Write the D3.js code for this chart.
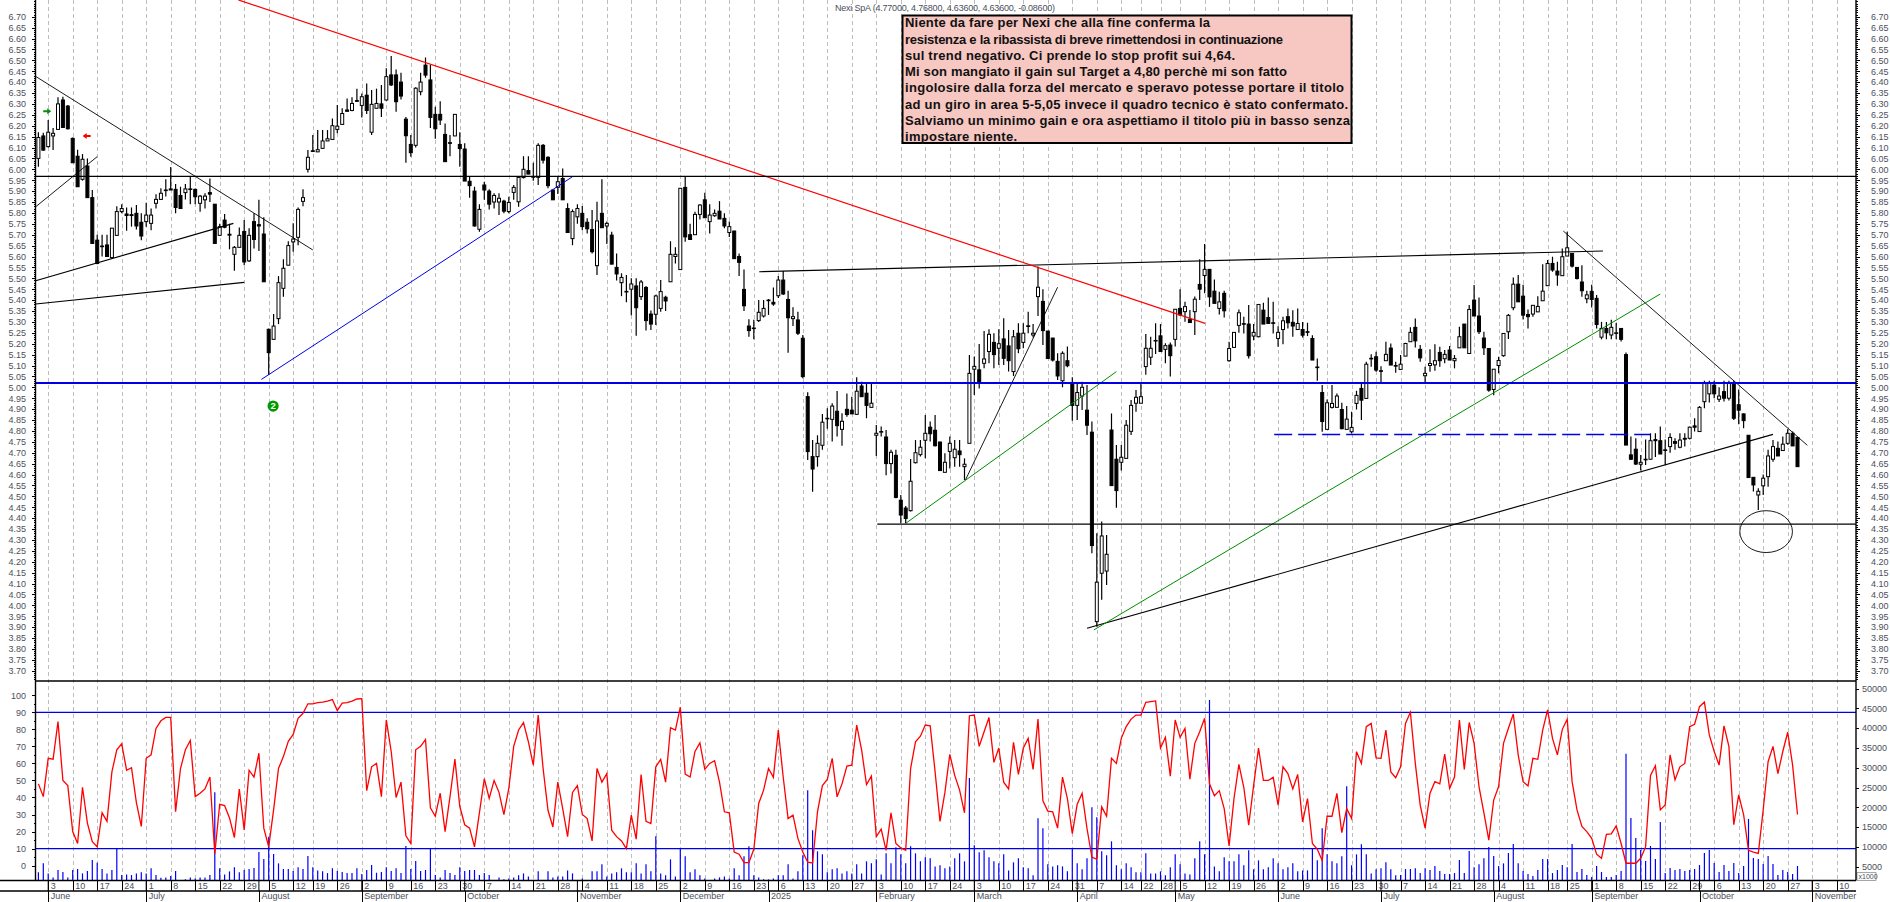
<html>
<head>
    <style media="screen">
        body { margin: 0; background: #fff; overflow: hidden; }
        svg { display: block; font-family: "Liberation Sans", Arial, sans-serif; }
        .axis text, .lbl { font-size: 9px; fill: #4b4f5c; stroke: none; }
        .axis path, .axis line { stroke: #000; shape-rendering: crispEdges; }
        .grid { stroke: #bdbdbd; stroke-dasharray: 4 3; shape-rendering: crispEdges; }
    </style>
    <script type='text/javascript' src="https://cdn.jsdelivr.net/npm/d3@7/dist/d3.min.js"></script>
</head>
<body>
    <svg id="chart" width="1890" height="902"></svg>
    <script>
        const title = 'Nexi SpA (4.77000, 4.76800, 4.63600, 4.63600, -0.08600)';
        const noteLines = [
            'Niente da fare per Nexi che alla fine conferma la',
            'resistenza e la ribassista di breve rimettendosi in continuazione',
            'sul trend negativo. Ci prende lo stop profit sui 4,64.',
            'Mi son mangiato il gain sul Target a 4,80 perchè mi son fatto',
            'ingolosire dalla forza del mercato e speravo potesse portare il titolo',
            'ad un giro in area 5-5,05 invece il quadro tecnico è stato confermato.',
            'Salviamo un minimo gain e ora aspettiamo il titolo più in basso senza',
            'impostare niente.'
        ];
        const noteWidths = [305,378,330,382,439,443,445,112];

        const opens = [
            6.05,6.153,6.104,6.153,6.183,6.318,6.29,6.142,6.06,5.954,
            6.015,5.87,5.675,5.648,5.653,5.595,5.697,5.806,5.795,5.792,
            5.798,5.757,5.76,5.752,5.844,5.862,5.905,5.91,5.908,5.88,
            5.893,5.91,5.908,5.844,5.86,5.893,5.84,5.697,5.767,5.702,
            5.61,5.642,5.715,5.58,5.76,5.746,5.703,5.266,5.22,5.315,
            5.454,5.56,5.667,5.688,5.853,6.0,6.085,6.08,6.096,6.13,
            6.137,6.183,6.206,6.272,6.27,6.315,6.293,6.34,6.17,6.28,
            6.30,6.318,6.433,6.433,6.4,6.23,6.114,6.11,6.356,6.478,
            6.41,6.252,6.252,6.16,6.122,6.153,6.114,6.093,5.945,5.9,
            5.725,5.928,5.9,5.85,5.85,5.854,5.806,5.894,5.851,5.962,
            5.994,5.966,5.963,6.11,6.055,5.905,5.917,5.958,5.82,5.682,
            5.782,5.798,5.757,5.724,5.558,5.798,5.74,5.698,5.55,5.48,
            5.44,5.45,5.465,5.416,5.458,5.336,5.335,5.362,5.413,5.484,
            5.6,5.54,5.917,5.7,5.7,5.793,5.86,5.76,5.787,5.808,
            5.775,5.71,5.717,5.6,5.449,5.281,5.272,5.306,5.327,5.4,
            5.39,5.42,5.492,5.403,5.315,5.309,5.225,4.957,4.682,4.682,
            4.734,4.858,4.853,4.89,4.807,4.899,4.895,4.876,5.006,4.973,
            4.908,4.78,4.797,4.772,4.65,4.688,4.482,4.446,4.434,4.654,
            4.691,4.757,4.817,4.803,4.749,4.61,4.706,4.677,4.708,4.636,
            4.743,5.083,5.08,5.11,5.164,5.206,5.179,5.222,5.19,5.072,
            5.248,5.206,5.282,5.24,5.416,5.394,5.258,5.226,5.119,5.03,
            5.122,5.021,4.917,4.96,4.895,4.794,3.925,4.147,4.157,4.804,
            4.67,4.656,4.674,4.798,4.927,4.927,5.095,5.138,5.215,5.236,
            5.174,5.194,5.22,5.362,5.347,5.312,5.347,5.472,5.513,5.541,
            5.441,5.362,5.431,5.122,5.183,5.284,5.292,5.29,5.235,5.232,
            5.354,5.32,5.296,5.224,5.265,5.324,5.298,5.265,5.265,5.255,
            5.224,5.093,4.976,4.807,4.908,4.908,4.898,4.807,4.796,4.926,
            4.995,4.949,5.133,5.14,5.076,5.122,5.18,5.1,5.082,5.143,
            5.209,5.275,5.174,5.053,5.1,5.103,5.16,5.131,5.171,5.122,
            5.181,5.29,5.155,5.4,5.327,5.226,5.178,4.99,5.1,5.145,
            5.255,5.365,5.473,5.418,5.334,5.336,5.346,5.397,5.466,5.568,
            5.533,5.512,5.602,5.614,5.55,5.483,5.406,5.44,5.408,5.23,
            5.27,5.24,5.25,5.27,5.15,4.69,4.716,4.647,4.67,4.67,
            4.76,4.755,4.713,4.728,4.751,4.725,4.766,4.766,4.823,4.797,
            4.934,4.97,5.01,4.945,4.98,4.95,5.02,4.92,4.878,4.78,
            4.587,4.506,4.548,4.59,4.67,4.72,4.71,4.743,4.789,4.77
        ];
        const highs = [
            6.17,6.168,6.226,6.19,6.33,6.333,6.295,6.146,6.09,6.07,
            6.05,5.905,5.70,5.70,5.70,5.73,5.83,5.84,5.825,5.825,
            5.836,5.798,5.846,5.82,5.885,5.913,5.954,6.01,5.933,5.92,
            5.933,5.966,5.912,5.882,5.89,5.958,5.84,5.75,5.795,5.75,
            5.648,5.733,5.767,5.73,5.798,5.86,5.78,5.27,5.336,5.51,
            5.587,5.67,5.752,5.825,5.908,6.088,6.157,6.18,6.18,6.18,
            6.233,6.295,6.28,6.325,6.33,6.37,6.348,6.394,6.364,6.37,
            6.387,6.463,6.52,6.458,6.443,6.24,6.157,6.376,6.443,6.513,
            6.478,6.287,6.312,6.21,6.157,6.252,6.17,6.12,5.966,5.92,
            5.84,5.943,5.908,5.89,5.89,5.86,5.874,5.928,5.966,6.06,
            6.06,6.03,6.12,6.116,6.06,5.905,5.966,6.004,5.844,5.816,
            5.84,5.832,5.775,5.813,5.851,5.954,5.76,5.714,5.614,5.523,
            5.515,5.5,5.5,5.492,5.465,5.352,5.425,5.492,5.42,5.67,
            5.642,5.913,5.966,5.75,5.805,5.84,5.893,5.84,5.816,5.854,
            5.798,5.76,5.717,5.614,5.54,5.312,5.31,5.4,5.4,5.405,
            5.458,5.51,5.533,5.443,5.367,5.347,5.24,4.977,4.758,4.78,
            4.878,4.904,4.927,4.983,4.881,4.972,4.957,5.046,5.026,5.018,
            5.018,4.827,4.82,4.804,4.713,4.713,4.506,4.456,4.671,4.758,
            4.758,4.873,4.843,4.873,4.75,4.697,4.774,4.758,4.758,4.674,
            5.148,5.141,5.199,5.258,5.266,5.248,5.266,5.317,5.263,5.263,
            5.294,5.294,5.347,5.29,5.554,5.45,5.258,5.226,5.156,5.165,
            5.187,5.046,5.021,5.026,5.011,4.843,4.33,4.384,4.323,4.88,
            4.735,4.735,4.85,4.942,4.988,5.018,5.245,5.232,5.294,5.29,
            5.202,5.205,5.358,5.45,5.393,5.355,5.416,5.587,5.657,5.541,
            5.495,5.438,5.443,5.209,5.252,5.357,5.324,5.377,5.29,5.38,
            5.388,5.412,5.392,5.28,5.324,5.362,5.354,5.362,5.3,5.296,
            5.239,5.132,5.01,4.944,5.01,4.972,4.929,4.914,4.888,4.984,
            5.018,5.117,5.152,5.163,5.097,5.209,5.201,5.117,5.148,5.204,
            5.275,5.316,5.194,5.094,5.174,5.198,5.186,5.171,5.189,5.148,
            5.278,5.29,5.377,5.469,5.412,5.255,5.178,5.083,5.14,5.247,
            5.336,5.504,5.515,5.47,5.357,5.376,5.418,5.565,5.584,5.599,
            5.576,5.637,5.713,5.614,5.55,5.56,5.443,5.47,5.423,5.3,
            5.3,5.31,5.295,5.27,5.16,4.774,4.766,4.69,4.76,4.789,
            4.789,4.82,4.76,4.789,4.766,4.789,4.789,4.82,4.858,4.914,
            5.03,5.03,5.03,5.0,5.03,5.03,5.03,4.99,4.88,4.78,
            4.587,4.537,4.6,4.713,4.758,4.751,4.774,4.807,4.797,4.77
        ];
        const lows = [
            6.012,6.085,6.10,6.088,6.183,6.192,6.183,6.03,5.92,5.948,
            5.87,5.66,5.565,5.60,5.60,5.59,5.694,5.798,5.718,5.737,
            5.724,5.675,5.737,5.72,5.82,5.86,5.875,5.905,5.798,5.82,
            5.862,5.84,5.84,5.805,5.82,5.85,5.66,5.697,5.73,5.633,
            5.535,5.642,5.56,5.575,5.637,5.625,5.484,5.056,5.218,5.29,
            5.415,5.56,5.622,5.652,5.83,5.985,6.08,6.08,6.093,6.13,
            6.137,6.165,6.203,6.266,6.266,6.31,6.238,6.254,6.157,6.28,
            6.24,6.315,6.382,6.264,6.32,6.03,6.058,6.1,6.34,6.42,
            6.19,6.14,6.203,6.035,6.06,6.153,6.012,5.946,5.87,5.737,
            5.714,5.86,5.816,5.82,5.79,5.798,5.798,5.86,5.828,5.958,
            5.978,5.948,5.928,6.027,5.913,5.86,5.887,5.86,5.71,5.652,
            5.75,5.72,5.706,5.614,5.515,5.732,5.657,5.565,5.49,5.418,
            5.39,5.33,5.237,5.4,5.26,5.263,5.286,5.347,5.35,5.484,
            5.568,5.54,5.668,5.678,5.7,5.77,5.778,5.706,5.782,5.772,
            5.73,5.69,5.59,5.51,5.35,5.232,5.22,5.3,5.32,5.332,
            5.374,5.41,5.423,5.159,5.281,5.24,5.041,4.666,4.521,4.636,
            4.713,4.81,4.751,4.774,4.732,4.865,4.878,4.873,4.957,4.858,
            4.908,4.685,4.774,4.596,4.605,4.491,4.376,4.376,4.43,4.651,
            4.682,4.674,4.751,4.728,4.618,4.61,4.628,4.636,4.636,4.575,
            4.743,4.965,4.995,5.087,5.11,5.087,5.102,5.102,5.072,5.052,
            5.156,5.179,5.248,5.229,5.327,5.194,5.132,5.118,5.034,5.0,
            5.092,4.847,4.85,4.896,4.781,4.239,3.902,4.025,4.093,4.549,
            4.448,4.618,4.674,4.781,4.888,4.927,5.057,5.102,5.153,5.164,
            5.11,5.049,5.187,5.327,5.301,5.297,5.24,5.4,5.431,5.369,
            5.385,5.334,5.32,5.117,5.183,5.25,5.247,5.132,5.216,5.229,
            5.29,5.293,5.247,5.186,5.198,5.27,5.232,5.265,5.229,5.235,
            5.125,5.03,4.796,4.807,4.903,4.908,4.807,4.807,4.788,4.898,
            4.85,4.949,5.094,5.071,5.021,5.122,5.102,5.067,5.082,5.143,
            5.209,5.183,5.117,5.019,5.071,5.076,5.094,5.11,5.125,5.087,
            5.181,5.181,5.155,5.327,5.244,5.148,4.98,4.964,5.064,5.14,
            5.221,5.354,5.392,5.311,5.27,5.324,5.346,5.397,5.466,5.53,
            5.466,5.512,5.602,5.55,5.495,5.415,5.385,5.366,5.27,5.22,
            5.22,5.22,5.22,5.21,4.735,4.667,4.644,4.618,4.644,4.67,
            4.68,4.694,4.644,4.70,4.713,4.72,4.728,4.76,4.797,4.797,
            4.904,4.93,4.95,4.932,4.935,4.94,4.85,4.83,4.812,4.586,
            4.522,4.437,4.506,4.544,4.659,4.685,4.71,4.736,4.731,4.636
        ];
        const closes = [
            6.146,6.088,6.17,6.165,6.30,6.192,6.186,6.03,5.92,6.046,
            5.87,5.66,5.568,5.645,5.60,5.73,5.806,5.82,5.788,5.788,
            5.74,5.694,5.79,5.79,5.862,5.89,5.905,5.905,5.825,5.82,
            5.91,5.908,5.874,5.877,5.877,5.886,5.66,5.737,5.734,5.698,
            5.642,5.697,5.575,5.697,5.678,5.74,5.484,5.159,5.281,5.48,
            5.546,5.65,5.68,5.816,5.87,6.055,6.082,6.09,6.13,6.14,
            6.2,6.198,6.256,6.266,6.302,6.312,6.333,6.27,6.298,6.302,
            6.28,6.425,6.387,6.31,6.336,6.154,6.076,6.372,6.4,6.432,
            6.238,6.186,6.226,6.035,6.12,6.252,6.095,5.946,5.925,5.74,
            5.816,5.905,5.84,5.88,5.867,5.808,5.848,5.917,5.963,6.0,
            5.978,5.966,6.11,6.042,5.925,5.86,5.943,5.86,5.71,5.806,
            5.82,5.737,5.727,5.622,5.763,5.732,5.752,5.565,5.52,5.504,
            5.438,5.474,5.365,5.483,5.306,5.29,5.419,5.439,5.396,5.61,
            5.61,5.913,5.69,5.678,5.793,5.836,5.778,5.79,5.798,5.772,
            5.74,5.737,5.59,5.573,5.374,5.26,5.27,5.344,5.362,5.4,
            5.382,5.492,5.428,5.319,5.324,5.248,5.049,4.705,4.625,4.743,
            4.84,4.858,4.914,4.824,4.844,4.875,4.878,4.982,4.957,4.917,
            4.927,4.789,4.797,4.65,4.702,4.495,4.414,4.398,4.569,4.7,
            4.725,4.789,4.787,4.732,4.618,4.656,4.743,4.716,4.691,4.647,
            5.064,5.096,5.021,5.13,5.243,5.15,5.2,5.133,5.122,5.232,
            5.177,5.248,5.28,5.248,5.459,5.26,5.132,5.125,5.052,5.156,
            5.099,4.917,4.976,5.0,4.826,4.274,4.106,4.318,4.234,4.549,
            4.526,4.679,4.826,4.917,4.954,4.957,5.179,5.179,5.213,5.164,
            5.191,5.145,5.358,5.332,5.37,5.297,5.404,5.45,5.541,5.415,
            5.385,5.392,5.351,5.178,5.252,5.342,5.29,5.145,5.252,5.38,
            5.29,5.293,5.294,5.252,5.305,5.296,5.281,5.293,5.239,5.252,
            5.125,5.092,4.843,4.929,4.926,4.96,4.81,4.854,4.816,4.963,
            4.941,5.106,5.131,5.079,5.075,5.151,5.102,5.098,5.106,5.201,
            5.252,5.213,5.135,5.064,5.109,5.122,5.122,5.151,5.125,5.132,
            5.232,5.181,5.357,5.327,5.255,5.181,4.987,5.083,5.123,5.247,
            5.33,5.473,5.392,5.331,5.324,5.376,5.371,5.441,5.568,5.538,
            5.515,5.599,5.64,5.556,5.499,5.443,5.424,5.403,5.288,5.27,
            5.25,5.275,5.25,5.22,4.735,4.67,4.648,4.656,4.67,4.755,
            4.755,4.694,4.712,4.77,4.743,4.758,4.762,4.817,4.817,4.908,
            5.02,5.02,4.97,4.96,4.95,5.02,4.858,4.895,4.847,4.586,
            4.552,4.523,4.583,4.685,4.728,4.685,4.739,4.789,4.731,4.636
        ];

        // oscillator, one value per bar
        const osc = [
            48,40.5,63,62.5,84.5,50,47,20,13,46,
            25,14,11,31,26,55,68,71.5,56,57.5,
            37,23,63,65,80.5,85,87,87,31.7,57,
            68,73.5,40.5,42.5,45,52,7,36,35.3,28,
            16.5,45,21,56,52,66,22,11,32.7,57,
            64,73,77,86.5,89.4,95,95,95.7,96,96.6,
            97.5,91,95.4,95.7,96.6,97.8,98,44,58,60,
            40.5,85.5,67,40,49,17.5,13,68,70,74,
            34,29,42.5,20,40.5,62.5,34.7,24,22,11,
            31,51,39.5,50,43,30,45.3,70,79.6,84,
            72.7,59,88.4,57,32.5,22.7,49,33.5,17,43,
            47,30,27.6,14.5,57,49,54,20.8,17,14.5,
            10,29.6,15.5,53.5,26,24.7,58,62.4,49,81,
            79.6,93,53.7,52,67,72,56.5,60,61.6,49,
            31.6,31,8,6.7,1.8,1.8,9.6,36.5,44.3,57,
            51.8,79.6,52,27.6,29.6,16,8,2,1.6,31.6,
            47,50.6,63,40.4,48,58.4,59,82.5,68,47.6,
            52.5,17,21.4,9,31,13,10.4,9,57,72.7,
            76,82.5,82,55,26,43,65.3,53,44.3,31,
            88,88.4,70,78.6,86.9,60.6,69,49,45,72.4,
            53.5,69,74.7,56.5,86,38,32,31.6,22,52,
            39.4,18.8,36,42.4,21.8,5,3.7,34.5,29,63,
            60,74.7,81.6,86,88.4,88.4,95.9,96.3,96.7,69,
            75.3,52.5,85.5,75.3,80.6,50.8,71.8,78.6,86.5,48,
            41,44,33.5,11.6,39.4,59.4,46,23.7,47,69,
            50,50,51.8,35.5,58,54,45,53.5,25.7,39.4,
            13,9.6,3,29,29,42.4,19.4,33.5,27.6,66.9,
            60,81.6,83.5,63.3,63,79.6,55,51.6,58,83.5,
            90,60,35.5,22,42.5,49.3,48,65.5,45.4,52,
            85.5,56.5,84,71.8,46.4,31,15,38.5,46.4,71.8,
            80.6,89,65,49.3,46.8,63,62.4,79.6,91.4,74.7,
            65,80,86,49.3,32.7,23,20,16,6.7,4.3,
            18.4,18.6,23.3,13,1.4,1.4,1.4,4.3,11,53,
            58.7,32.7,35.6,65,50.3,58,60,81.6,83,93.3,
            96,76.7,67,59,82,70,24,41.5,30,9,
            8,7.2,32.7,61,70,54,67,78.3,59,30
        ];

        // volume, read in units of the right axis (x1000)
        const volumes = [
            3570,5840,3310,2300,4160,3650,2300,4160,4410,3310,
            3900,6690,6010,4410,3310,4160,9550,2890,3060,2890,
            3310,3570,3310,4580,2890,2220,2300,2640,3900,1540,
            1800,2300,2050,2300,2300,2890,23800,4580,3060,3820,
            4830,3570,4160,4410,4660,8710,6940,12590,8200,5840,
            4410,4410,3900,4830,4410,7700,4830,4070,3820,3400,
            4580,3900,3650,3400,3400,4580,3150,4160,5420,3480,
            3650,4830,3900,4580,3400,10230,4410,6430,3900,4160,
            9550,2890,2300,4160,3400,2890,4830,3900,4160,4160,
            2890,3400,2890,1540,2300,1800,2050,2300,2810,3310,
            2550,1540,3820,1540,3820,2300,2550,2550,4070,3310,
            1540,2050,1540,3820,3820,5590,2550,3310,3570,4580,
            3570,3570,5840,3310,5590,3820,12670,3310,2810,6850,
            2550,9550,7610,3570,4330,2810,2050,1540,2050,2300,
            2550,2050,4580,2810,7610,10140,2810,2300,1800,1800,
            2050,2810,2810,5590,2050,3820,7870,24300,14190,8880,
            8120,3570,4330,4580,3310,3820,3310,5590,3310,6350,
            5840,6850,3060,8370,5840,9890,8120,5840,10140,8370,
            6350,7360,7110,5080,5340,4580,5080,7110,8370,6350,
            27400,10400,8620,9130,7360,6350,5840,8120,4070,6100,
            7110,4830,4580,2810,17220,14700,5590,5080,5340,5080,
            3820,9550,5840,4330,7110,20000,17480,8880,7870,11410,
            5340,4330,5840,4830,3570,3570,8370,3310,3310,3820,
            2810,4830,8120,5590,3310,3060,7110,11410,8120,47100,
            5080,3820,7360,6350,6350,8120,5340,9130,4330,6600,
            4330,4830,7110,5840,4330,4830,5840,3820,4070,4070,
            9550,6600,14700,8120,6350,5840,7610,25300,5340,8120,
            10650,8120,3310,4330,4580,6100,4330,2810,2890,4410,
            4410,4580,3400,4580,4160,5170,3900,3150,3150,3400,
            6690,3400,8960,4830,5590,7110,9970,7700,5170,5840,
            8460,10730,5840,3900,3150,2640,4160,6940,6940,3400,
            4160,5420,4830,10730,3650,4410,2890,2390,5170,3650,
            2390,2390,2890,3900,33500,17310,12250,9210,6430,10230,
            6940,16300,3400,4660,4160,4410,3900,4160,4410,5420,
            8460,9210,5930,3650,5420,3900,5930,3400,5170,17060,
            7190,6940,5670,7700,5670,2890,4160,3650,3150,5170
        ];

        // x axis: bar index of every weekly tick and what it says
        const weekBars = [
            2,7,12,17,22,27,32,37,42,47,52,56,61,66,71,76,81,86,91,96,101,106,111,116,121,126,
            131,136,141,146,151,156,161,166,171,176,181,186,191,196,201,206,211,216,221,225,229,
            233,238,243,248,253,258,263,268,273,278,283,288,293,298,303,308,312,317,322,327,332,
            337,342,347,352,357,362,367
        ];
        const weekLabels = [
            3,10,17,24,1,8,15,22,29,5,12,19,26,2,9,16,23,30,7,14,21,28,4,11,18,25,
            2,9,16,23,6,13,20,27,3,10,17,24,3,10,17,24,31,7,14,22,28,
            5,12,19,26,2,9,16,23,30,7,14,21,28,4,11,18,25,1,8,15,22,
            29,6,13,20,27,3,10
        ];
        const monthBars = [2,22,45,66,87,110,131,149,171,191,212,232,253,274,297,317,339,362];
        const monthLabels = ['June','July','August','September','October','November','December','2025','February','March','April','May','June','July','August','September','October','November'];

        // drawn lines: start bar, start price, end bar, end price
        const blackThin = [[-0.55,6.426,56,5.63],[-0.55,5.828,12,6.058],[189.2,4.575,208,5.459],[311.2,5.717,361,4.734]];
        const blackThick = [[-0.55,5.489,39.8,5.752],[-0.55,5.382,42,5.481],[147.1,5.53,319.3,5.625],[214,3.895,354,4.784]];
        const redLines = [[40.8,6.777,238.1,5.293]];
        const blueLines = [[45.5,5.036,109,5.966]];
        const greenLines = [[177,4.376,220,5.072],[215.4,3.887,331,5.428]];
        const dashedBlue = [[252.2,4.784,329,4.784]];
        const levelsBlack = [[-0.55,5.968],[171.2,4.372]];
        const levelsBlue = [5.02];
        const oscLevels = [90,10];

        const svg = d3.select('#chart');
        const left = 35.5, right = 1856, bottom = 880.5, priceBottom = 681;

        const x = d3.scaleLinear().domain([0,359]).range([38.4,1797.5]);
        const y = d3.scaleLinear().domain([6.7,3.7]).range([16.7,670.7]);
        const yOsc = d3.scaleLinear().domain([90,10]).range([712.3,848.6]);
        const yVol = d3.scaleLinear().domain([5000,45000]).range([866.7,708.3]);

        // weekly grid
        svg.append('g').selectAll('line').data(weekBars).join('line')
            .attr('class','grid')
            .attr('x1',d=>Math.round(x(d))+0.5).attr('x2',d=>Math.round(x(d))+0.5)
            .attr('y1',0).attr('y2',bottom);

        // volume bars sit under everything else in the lower panel
        svg.append('g').selectAll('line').data(volumes).join('line')
            .attr('x1',(d,i)=>x(i)).attr('x2',(d,i)=>x(i))
            .attr('y1',bottom).attr('y2',d=>yVol(d))
            .attr('stroke','#0000ff').attr('stroke-width',1.2);

        svg.append('g').selectAll('line').data(oscLevels).join('line')
            .attr('x1',left).attr('x2',right)
            .attr('y1',d=>yOsc(d)).attr('y2',d=>yOsc(d))
            .attr('stroke','#0000e6').attr('stroke-width',1.3);

        svg.append('path').datum(osc)
            .attr('fill','none').attr('stroke','#ff0000').attr('stroke-width',1.3)
            .attr('d',d3.line().x((d,i)=>x(i)).y(d=>yOsc(d)));

        // candles
        const bars = d3.range(opens.length);
        svg.append('g').selectAll('line').data(bars).join('line')
            .attr('x1',i=>x(i)).attr('x2',i=>x(i))
            .attr('y1',i=>y(highs[i])).attr('y2',i=>y(lows[i]))
            .attr('stroke','#000').attr('stroke-width',1.2);
        svg.append('g').selectAll('rect').data(bars).join('rect')
            .attr('x',i=>x(i)-1.5).attr('width',3)
            .attr('y',i=>y(Math.max(opens[i],closes[i])))
            .attr('height',i=>Math.max(Math.abs(y(opens[i])-y(closes[i])),0.6))
            .attr('fill',i=>closes[i]<opens[i]?'#000':'#fff')
            .attr('stroke','#000').attr('stroke-width',1);

        // drawn lines on top of the candles
        function drawSegs(list,color,width,dash){
            svg.append('g').selectAll('line').data(list).join('line')
                .attr('x1',d=>x(d[0])).attr('y1',d=>y(d[1]))
                .attr('x2',d=>x(d[2])).attr('y2',d=>y(d[3]))
                .attr('stroke',color).attr('stroke-width',width)
                .attr('stroke-dasharray',dash||null);
        }
        drawSegs(blackThin,'#000',0.9);
        drawSegs(blackThick,'#000',1.15);
        drawSegs(redLines,'#ff0000',1.2);
        drawSegs(blueLines,'#0000e6',1);
        drawSegs(greenLines,'#008c00',1);
        drawSegs(dashedBlue,'#0000e6',1.5,'18 6');

        svg.append('g').selectAll('line').data(levelsBlack).join('line')
            .attr('x1',d=>x(d[0])).attr('x2',right)
            .attr('y1',d=>y(d[1])).attr('y2',d=>y(d[1]))
            .attr('stroke','#000').attr('stroke-width',1.2);
        svg.append('g').selectAll('line').data(levelsBlue).join('line')
            .attr('x1',left).attr('x2',right)
            .attr('y1',d=>y(d)).attr('y2',d=>y(d))
            .attr('stroke','#0000e6').attr('stroke-width',2);

        // the circle near the lows
        svg.append('ellipse')
            .attr('cx',x(352.6)).attr('cy',y(4.338))
            .attr('rx',x(5.37)-x(0)).attr('ry',y(4.338)-y(4.434))
            .attr('fill','none').attr('stroke','#000').attr('stroke-width',0.9);

        // arrows and the numbered marker
        const arrowMark = (i,p,color,dir) => {
            const g = svg.append('g').attr('transform','translate('+x(i)+','+y(p)+') scale('+dir+',1)');
            g.append('path').attr('d','M-4,-1 L0,-1 L0,-3 L4,0 L0,3 L0,1 L-4,1 Z').attr('fill',color);
        };
        arrowMark(1.8,6.266,'#0c8c0c',1);
        arrowMark(9.85,6.153,'#ff0000',-1);

        svg.append('circle').attr('cx',x(47.9)).attr('cy',y(4.914)).attr('r',5.6).attr('fill','#009a00');
        svg.append('text').attr('x',x(47.9)).attr('y',y(4.914)+3.4)
            .attr('text-anchor','middle').attr('font-size',9.5).attr('font-weight','bold')
            .attr('fill','#fff').text('2');

        // price axes
        const priceMajors = d3.range(370,671,5).map(d=>d/100);
        const priceMinors = d3.range(366,678).map(d=>d/100);
        const priceFmt = d3.format('.2f');
        function priceAxes(scale,ax,sideX){
            const g = svg.append('g').attr('class','axis').attr('transform','translate('+sideX+',0)');
            g.call(ax(scale).tickValues(priceMinors).tickSize(2).tickFormat(''));
            g.select('.domain').remove();
            const g2 = svg.append('g').attr('class','axis').attr('transform','translate('+sideX+',0)');
            g2.call(ax(scale).tickValues(priceMajors).tickSize(4).tickFormat(priceFmt));
            g2.select('.domain').remove();
            return g2;
        }
        priceAxes(y,d3.axisLeft,left).selectAll('text').attr('x',-9.5);
        priceAxes(y,d3.axisRight,right).selectAll('text').attr('x',15).attr('text-anchor','start');

        // lower panel axes
        const oscTicks = d3.range(0,101,10);
        const oscMinor = d3.range(5,100,10);
        const gOsc = svg.append('g').attr('class','axis').attr('transform','translate('+left+',0)');
        gOsc.call(d3.axisLeft(yOsc).tickValues(oscTicks).tickSize(4));
        gOsc.select('.domain').remove();
        gOsc.selectAll('text').attr('x',-9.5);
        const gOsc2 = svg.append('g').attr('class','axis').attr('transform','translate('+left+',0)');
        gOsc2.call(d3.axisLeft(yOsc).tickValues(oscMinor).tickSize(2).tickFormat(''));
        gOsc2.select('.domain').remove();

        const volTicks = d3.range(5000,50001,5000);
        const gVol = svg.append('g').attr('class','axis').attr('transform','translate('+right+',0)');
        gVol.call(d3.axisRight(yVol).tickValues(volTicks).tickSize(3).tickFormat(d3.format('d')));
        gVol.select('.domain').remove();
        gVol.selectAll('text').attr('x',6).attr('text-anchor','start');

        svg.append('rect').attr('x',right+1).attr('y',872.7).attr('width',19).attr('height',7.6)
            .attr('fill','#fff').attr('stroke','#777').attr('stroke-width',0.7);
        svg.append('text').attr('class','lbl').attr('x',right+2.5).attr('y',879)
            .style('font-size','7px').text('x1000');

        // frame lines
        const frame = [[left,0,left,bottom],[right,0,right,bottom],[left,priceBottom,right,priceBottom],[0,bottom,right,bottom],[0,891,right,891]];
        svg.append('g').selectAll('line').data(frame).join('line')
            .attr('x1',d=>d[0]).attr('y1',d=>d[1]).attr('x2',d=>d[2]).attr('y2',d=>d[3])
            .attr('stroke','#000').attr('stroke-width',1.4);

        // date axes
        const gWeek = svg.append('g').attr('class','axis').attr('transform','translate(0,'+bottom+')');
        gWeek.call(d3.axisBottom(x).tickValues(weekBars).tickSize(10).tickFormat((d,i)=>weekLabels[i]));
        gWeek.select('.domain').remove();
        gWeek.selectAll('text').attr('text-anchor','start').attr('x',2).attr('y',2.5).attr('dy','.71em');

        const gMonth = svg.append('g').attr('class','axis').attr('transform','translate(0,891)');
        gMonth.call(d3.axisBottom(x).tickValues(monthBars).tickSize(11).tickFormat((d,i)=>monthLabels[i]));
        gMonth.select('.domain').remove();
        gMonth.selectAll('text').attr('text-anchor','start').attr('x',2).attr('y',2).attr('dy','.71em');

        // month ticks also cut the day row
        svg.append('g').selectAll('line').data(monthBars).join('line')
            .attr('x1',d=>x(d)).attr('x2',d=>x(d)).attr('y1',bottom).attr('y2',891)
            .attr('stroke','#000');

        // title and note
        svg.append('text').attr('class','lbl').attr('x',835).attr('y',11)
            .attr('textLength',220).attr('lengthAdjust','spacing').text(title);

        svg.append('rect').attr('x',902.5).attr('y',15.5).attr('width',449).attr('height',127.5)
            .attr('fill','#f7c7c1').attr('stroke','#000').attr('stroke-width',2);
        svg.append('g').selectAll('text').data(noteLines).join('text')
            .attr('x',905).attr('y',(d,i)=>27.3+i*16.25)
            .attr('font-size',13).attr('font-weight','bold').attr('fill','#111')
            .attr('textLength',(d,i)=>noteWidths[i]).attr('lengthAdjust','spacing')
            .text(d=>d);
    </script>
</body>
</html>
